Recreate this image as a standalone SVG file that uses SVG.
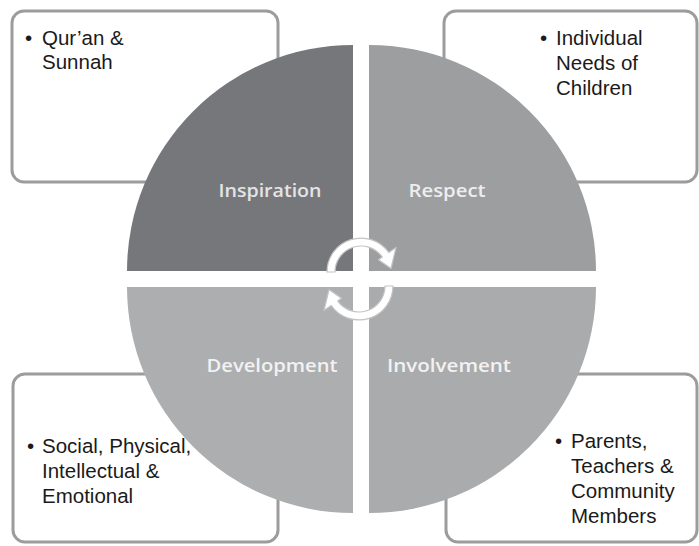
<svg xmlns="http://www.w3.org/2000/svg" width="699" height="546" viewBox="0 0 699 546">
<style>
.box{fill:#ffffff;stroke:#9c9c9c;stroke-width:3}
.txt{font-family:"Liberation Sans",Arial,sans-serif;font-size:20.5px;fill:#1a1a1a}
.lbl{font-family:"Open Sans","DejaVu Sans",sans-serif;font-weight:600;font-size:18.5px;text-anchor:middle}
.arr{fill:#ffffff;stroke:#c4c4c4;stroke-width:1.2;stroke-linejoin:round}
</style>
<rect width="699" height="546" fill="#ffffff"/>
<g id="box-quran">
<rect class="box" x="12" y="11" width="266" height="171" rx="12"/>
</g>
<g id="box-needs">
<rect class="box" x="444" y="11" width="253" height="171" rx="12"/>
</g>
<g id="box-development">
<rect class="box" x="13" y="374" width="265" height="168" rx="12"/>
</g>
<g id="box-involvement">
<rect class="box" x="446" y="374" width="251" height="168" rx="12"/>
</g>
<g id="inspiration">
<path d="M353 271 L127 271 A226 226 0 0 1 353 45 Z" fill="#76777b"/>
<text class="lbl" x="270" y="197" fill="#e4e4e5" textLength="103" lengthAdjust="spacingAndGlyphs">Inspiration</text>
</g>
<g id="respect">
<path d="M369 271 L369 45 A227 226 0 0 1 596 271 Z" fill="#9d9ea0"/>
<text class="lbl" x="447" y="197" fill="#eeeeee" textLength="77" lengthAdjust="spacingAndGlyphs">Respect</text>
</g>
<g id="development">
<path d="M353 287 L353 513 A226 226 0 0 1 127 287 Z" fill="#adaeb0"/>
<text class="lbl" x="272" y="372" fill="#f2f2f2" textLength="131" lengthAdjust="spacingAndGlyphs">Development</text>
</g>
<g id="involvement">
<path d="M369 287 L596 287 A227 226 0 0 1 369 513 Z" fill="#aaabad"/>
<text class="lbl" x="449" y="372" fill="#f2f2f2" textLength="124" lengthAdjust="spacingAndGlyphs">Involvement</text>
</g>
<g id="text-quran" class="txt">
<text x="25" y="45">•</text><text x="42" y="45">Qur’an &amp;</text>
<text x="42" y="69">Sunnah</text>
</g>
<g id="text-needs" class="txt">
<text x="540" y="45">•</text><text x="556" y="45">Individual</text>
<text x="556" y="70">Needs of</text>
<text x="556" y="95">Children</text>
</g>
<g id="text-development" class="txt">
<text x="27" y="453">•</text><text x="42" y="453">Social, Physical,</text>
<text x="42" y="478">Intellectual &amp;</text>
<text x="42" y="503">Emotional</text>
</g>
<g id="text-involvement" class="txt">
<text x="555" y="448">•</text><text x="571" y="448">Parents,</text>
<text x="571" y="473">Teachers &amp;</text>
<text x="571" y="498">Community</text>
<text x="571" y="523">Members</text>
</g>
<g id="connectors">
<path class="arr" d="M327 272 A34 34 0 0 1 388.8 252.5 L396 247.5 L391 268.5 L378.5 259.8 L382.3 257.1 A26 26 0 0 0 335 272 Z"/>
<path class="arr" transform="rotate(180 360 279)" d="M327 272 A34 34 0 0 1 388.8 252.5 L396 247.5 L391 268.5 L378.5 259.8 L382.3 257.1 A26 26 0 0 0 335 272 Z"/>
</g>
</svg>
